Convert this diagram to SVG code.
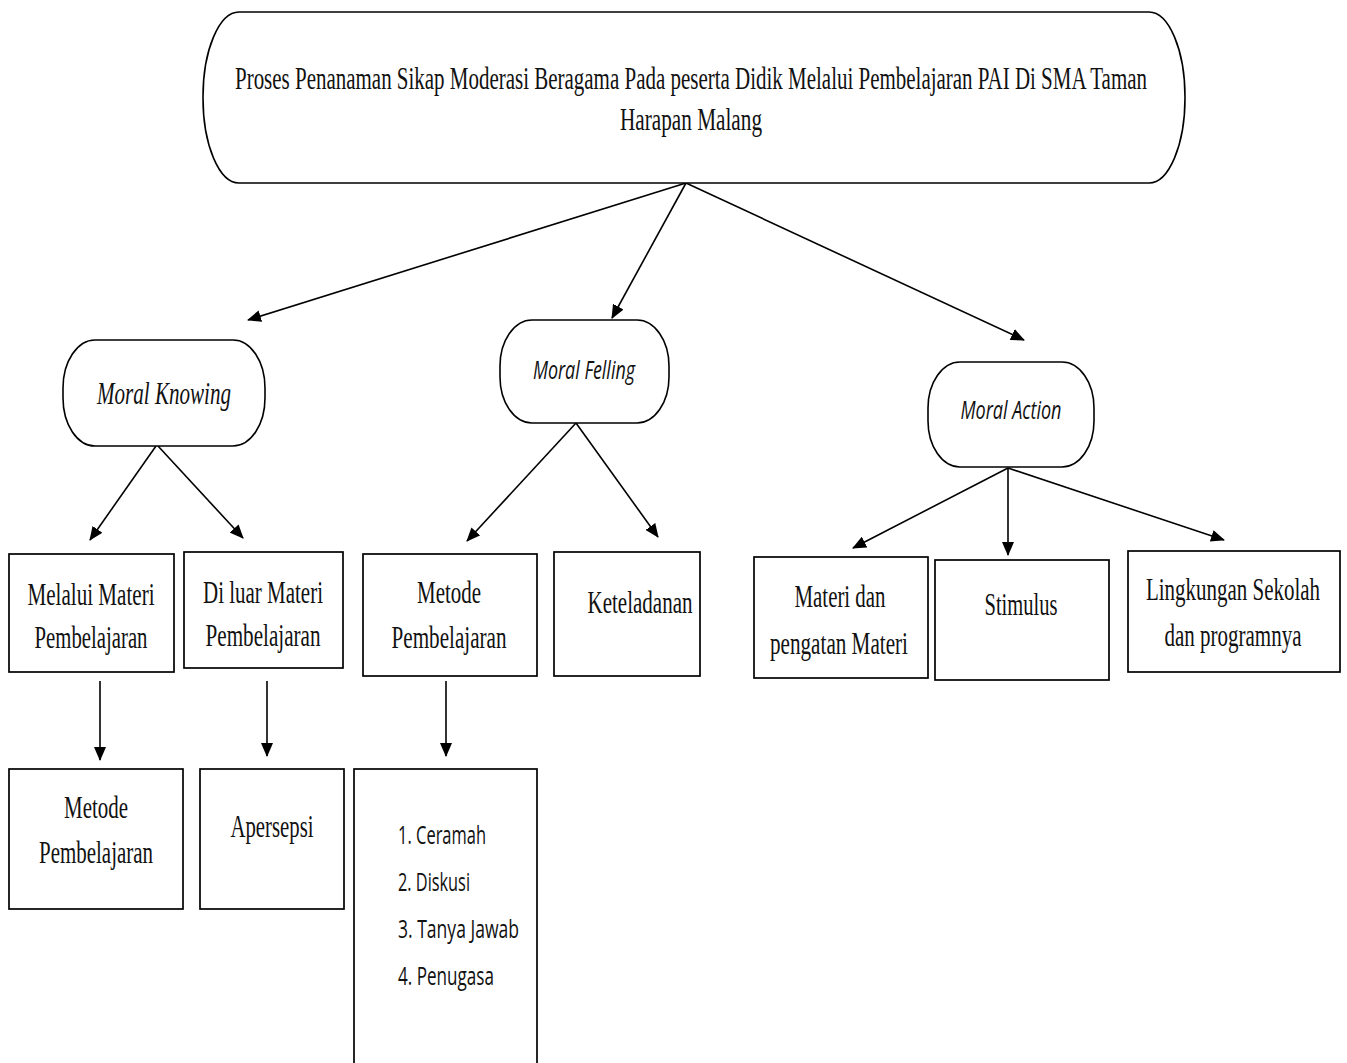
<svg xmlns="http://www.w3.org/2000/svg" width="1347" height="1063" viewBox="0 0 1347 1063">
  <style>
    .box { fill: #fff; stroke: #000; stroke-width: 1.7; }
    .pill { fill: #fff; stroke: #000; stroke-width: 1.6; }
    .serif { font-family: "Liberation Serif", "Times New Roman", serif; font-size: 32px; fill: #111; text-anchor: middle; }
    .ital { font-family: "Liberation Serif", "Times New Roman", serif; font-style: italic; font-size: 32px; fill: #111; text-anchor: middle; }
    .sans-i { font-family: "Open Sans", "Liberation Sans", sans-serif; font-style: italic; font-size: 25px; fill: #111; text-anchor: middle; }
    .sans { font-family: "Open Sans", "Liberation Sans", sans-serif; font-size: 25px; fill: #111; }
    .link { stroke: #000; stroke-width: 1.6; fill: none; marker-end: url(#arrow); }
  </style>
  <defs>
    <marker id="arrow" markerWidth="14" markerHeight="12" refX="13" refY="6" orient="auto" markerUnits="userSpaceOnUse" viewBox="0 0 14 12">
      <path d="M0,0 L14,6 L0,12 z" fill="#000"/>
    </marker>
  </defs>
  <rect width="1347" height="1063" fill="#fff"/>

  <!-- connectors -->
  <g id="connectors">
    <line class="link" x1="686" y1="183" x2="248" y2="320"/>
    <line class="link" x1="686" y1="183" x2="612" y2="318"/>
    <line class="link" x1="686" y1="183" x2="1024" y2="340"/>
    <line class="link" x1="156" y1="446" x2="90" y2="540"/>
    <line class="link" x1="158" y1="446" x2="243" y2="538"/>
    <line class="link" x1="576" y1="423" x2="467" y2="541"/>
    <line class="link" x1="576" y1="423" x2="658" y2="537"/>
    <line class="link" x1="1008" y1="468" x2="853" y2="548"/>
    <line class="link" x1="1008" y1="468" x2="1008" y2="555"/>
    <line class="link" x1="1008" y1="468" x2="1224" y2="540"/>
    <line class="link" x1="100" y1="681" x2="100" y2="760"/>
    <line class="link" x1="267" y1="681" x2="267" y2="756"/>
    <line class="link" x1="446" y1="681" x2="446" y2="756"/>
  </g>

  <!-- root -->
  <g id="root">
    <rect class="pill" x="203" y="12" width="982" height="171" rx="36" ry="85"/>
    <text class="serif" x="691" y="89" textLength="912" lengthAdjust="spacingAndGlyphs">Proses Penanaman Sikap Moderasi Beragama Pada peserta Didik Melalui Pembelajaran PAI Di SMA Taman</text>
    <text class="serif" x="691" y="130" textLength="142" lengthAdjust="spacingAndGlyphs">Harapan Malang</text>
  </g>

  <!-- second level -->
  <g id="moral-knowing">
    <rect class="pill" x="63" y="340" width="202" height="106" rx="32" ry="48"/>
    <text class="ital" x="164" y="404" textLength="134" lengthAdjust="spacingAndGlyphs">Moral Knowing</text>
  </g>
  <g id="moral-felling">
    <rect class="pill" x="500" y="320" width="169" height="103" rx="32" ry="46"/>
    <text class="sans-i" x="584" y="379" textLength="102" lengthAdjust="spacingAndGlyphs">Moral Felling</text>
  </g>
  <g id="moral-action">
    <rect class="pill" x="928" y="362" width="166" height="105" rx="32" ry="46"/>
    <text class="sans-i" x="1011" y="419" textLength="101" lengthAdjust="spacingAndGlyphs">Moral Action</text>
  </g>

  <!-- third level -->
  <g id="melalui-materi">
    <rect class="box" x="9" y="554" width="165" height="118"/>
    <text class="serif" x="91" y="605" textLength="127" lengthAdjust="spacingAndGlyphs">Melalui Materi</text>
    <text class="serif" x="91" y="648" textLength="113" lengthAdjust="spacingAndGlyphs">Pembelajaran</text>
  </g>
  <g id="di-luar-materi">
    <rect class="box" x="184" y="552" width="159" height="116"/>
    <text class="serif" x="263" y="603" textLength="120" lengthAdjust="spacingAndGlyphs">Di luar Materi</text>
    <text class="serif" x="263" y="646" textLength="115" lengthAdjust="spacingAndGlyphs">Pembelajaran</text>
  </g>
  <g id="metode-felling">
    <rect class="box" x="363" y="554" width="174" height="122"/>
    <text class="serif" x="449" y="603" textLength="64" lengthAdjust="spacingAndGlyphs">Metode</text>
    <text class="serif" x="449" y="648" textLength="115" lengthAdjust="spacingAndGlyphs">Pembelajaran</text>
  </g>
  <g id="keteladanan">
    <rect class="box" x="554" y="552" width="146" height="124"/>
    <text class="serif" x="640" y="613" textLength="105" lengthAdjust="spacingAndGlyphs">Keteladanan</text>
  </g>
  <g id="materi-pengatan">
    <rect class="box" x="754" y="557" width="174" height="121"/>
    <text class="serif" x="840" y="607" textLength="91" lengthAdjust="spacingAndGlyphs">Materi dan</text>
    <text class="serif" x="839" y="654" textLength="138" lengthAdjust="spacingAndGlyphs">pengatan Materi</text>
  </g>
  <g id="stimulus">
    <rect class="box" x="935" y="560" width="174" height="120"/>
    <text class="serif" x="1021" y="615" textLength="73" lengthAdjust="spacingAndGlyphs">Stimulus</text>
  </g>
  <g id="lingkungan">
    <rect class="box" x="1128" y="551" width="212" height="121"/>
    <text class="serif" x="1233" y="600" textLength="174" lengthAdjust="spacingAndGlyphs">Lingkungan Sekolah</text>
    <text class="serif" x="1233" y="646" textLength="137" lengthAdjust="spacingAndGlyphs">dan programnya</text>
  </g>

  <!-- fourth level -->
  <g id="metode-knowing">
    <rect class="box" x="9" y="769" width="174" height="140"/>
    <text class="serif" x="96" y="818" textLength="64" lengthAdjust="spacingAndGlyphs">Metode</text>
    <text class="serif" x="96" y="863" textLength="114" lengthAdjust="spacingAndGlyphs">Pembelajaran</text>
  </g>
  <g id="apersepsi">
    <rect class="box" x="200" y="769" width="144" height="140"/>
    <text class="serif" x="272" y="837" textLength="83" lengthAdjust="spacingAndGlyphs">Apersepsi</text>
  </g>
  <g id="daftar-metode">
    <rect class="box" x="354" y="769" width="183" height="300"/>
    <text class="sans" x="398" y="844" textLength="88" lengthAdjust="spacingAndGlyphs">1. Ceramah</text>
    <text class="sans" x="398" y="891" textLength="72" lengthAdjust="spacingAndGlyphs">2. Diskusi</text>
    <text class="sans" x="398" y="938" textLength="121" lengthAdjust="spacingAndGlyphs">3. Tanya Jawab</text>
    <text class="sans" x="398" y="985" textLength="96" lengthAdjust="spacingAndGlyphs">4. Penugasa</text>
  </g>
</svg>
